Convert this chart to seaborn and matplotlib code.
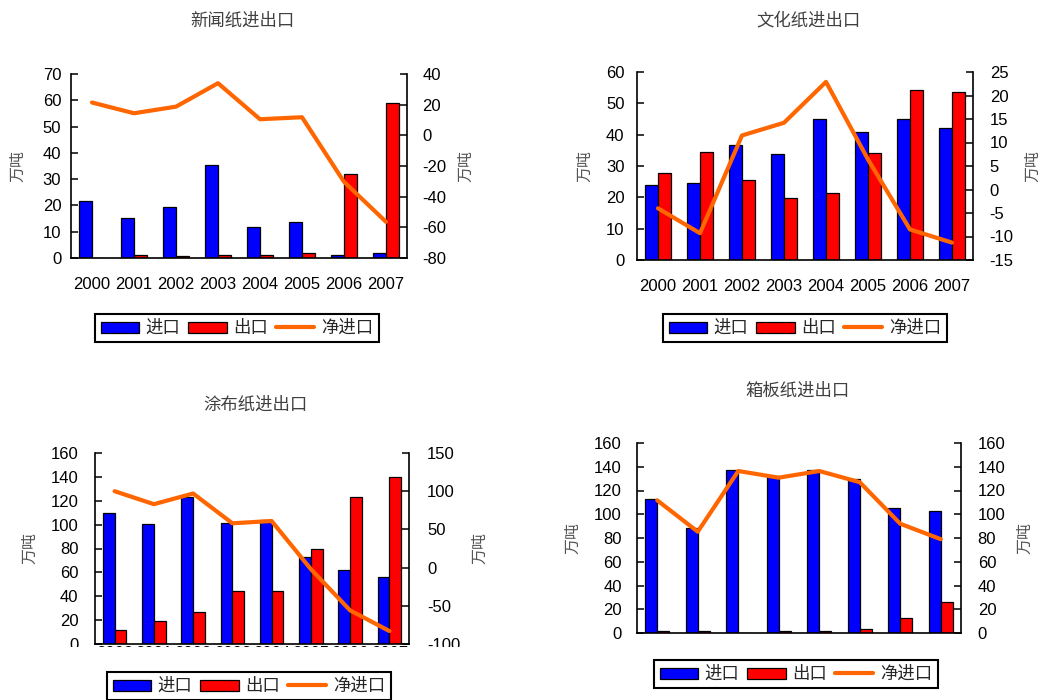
import numpy as np
import pandas as pd
import matplotlib
matplotlib.use("Agg")
import matplotlib.pyplot as plt
import seaborn as sns
from matplotlib.patches import Patch
from matplotlib.lines import Line2D
from matplotlib.transforms import Bbox, TransformedBbox, IdentityTransform

# ---------------- data ----------------
years = ["2000", "2001", "2002", "2003", "2004", "2005", "2006", "2007"]
series_names = ["进口", "出口", "净进口"]
titles = ["新闻纸进出口", "文化纸进出口", "涂布纸进出口", "箱板纸进出口"]
unit_label = "万吨"

news_import = [21.5, 15.1, 19.4, 35.4, 11.7, 13.8, 1.1, 1.9]
news_export = [0.0, 1.1, 0.6, 1.1, 1.1, 1.9, 32.0, 59.0]
news_net = [21.4, 14.4, 18.7, 34.0, 10.5, 11.8, -30.3, -56.4]

culture_import = [23.9, 24.5, 36.7, 33.8, 44.9, 40.7, 44.9, 42.0]
culture_export = [27.9, 34.4, 25.6, 19.7, 21.5, 34.3, 54.1, 53.5]
culture_net = [-4.0, -9.3, 11.5, 14.2, 22.9, 6.4, -8.5, -11.3]

coated_import = [110.0, 100.8, 122.8, 101.4, 104.0, 73.0, 62.3, 56.0]
coated_export = [11.5, 19.0, 26.8, 44.0, 44.0, 79.4, 122.8, 139.7]
coated_net = [100.0, 83.0, 97.0, 58.0, 61.0, -2.0, -56.0, -83.0]

board_import = [112.6, 88.1, 137.0, 132.0, 137.0, 129.4, 105.0, 103.0]
board_export = [1.7, 1.5, 0.0, 1.5, 1.5, 3.4, 12.4, 26.4]
board_net = [111.7, 85.3, 136.4, 130.8, 136.4, 127.0, 92.0, 79.0]

# ---------------- style ----------------
sns.set_style("white")
plt.rcParams["font.family"] = ["Liberation Sans", "Noto Sans CJK SC", "DejaVu Sans"]
plt.rcParams["axes.unicode_minus"] = False

BLUE = "#0000FF"
RED = "#FF0000"
ORANGE = "#FF6600"
W, H = 1050, 700
TICK_FS = 12

fig = plt.figure(figsize=(W / 100, H / 100), dpi=100)
fig.patch.set_facecolor("white")


def draw_panel(rect, title, title_xy, imp, exp, net, ylim_l, yticks_l, ylim_r, yticks_r,
               legend_xy, ylab_x, pads=(7, 11), show_xlabels=True, xpad=14, clip_y=None):
    l, r, t, b = rect
    ax = fig.add_axes([l / W, 1 - b / H, (r - l) / W, (b - t) / H])
    df = pd.DataFrame({
        "year": years * 2,
        "kind": [series_names[0]] * len(years) + [series_names[1]] * len(years),
        "value": list(imp) + list(exp),
    })
    sns.barplot(data=df, x="year", y="value", hue="kind", order=years,
                hue_order=series_names[:2], palette=[BLUE, RED], saturation=1,
                width=0.6, edgecolor="black", linewidth=0.9, legend=False, ax=ax)
    ax2 = ax.twinx()
    sns.lineplot(x=np.arange(len(years)), y=net, ax=ax2, color=ORANGE,
                 linewidth=3.0, sort=False)
    ax.set_xlim(-0.5, len(years) - 0.5)
    ax.set_ylim(*ylim_l)
    ax.set_yticks(yticks_l)
    ax2.set_ylim(*ylim_r)
    ax2.set_yticks(yticks_r)
    ax.set_xticks(range(len(years)), labels=years if show_xlabels else [""] * len(years))
    ax.set_xticks(np.arange(0.5, len(years) - 0.5, 1.0), minor=True)
    ax.tick_params(axis="x", which="major", length=0, pad=xpad, labelsize=TICK_FS, colors="black")
    ax.tick_params(axis="x", which="minor", direction="in", length=5, width=1.1, color="black")
    ax.tick_params(axis="y", direction="in", length=5, width=1.1, pad=pads[0],
                   labelsize=TICK_FS, colors="black")
    ax2.tick_params(axis="y", direction="in", length=5, width=1.1, pad=pads[1],
                    labelsize=TICK_FS, colors="black")
    ax.set_xlabel("")
    for a in (ax, ax2):
        for s in a.spines.values():
            s.set_color("black")
            s.set_linewidth(1.2)
        a.spines["top"].set_visible(False)
    ax.spines["right"].set_visible(False)
    ax2.spines["left"].set_visible(False)
    ax2.spines["bottom"].set_visible(False)
    ax.set_facecolor("none")

    ax.set_ylabel(unit_label, fontsize=11.5, color="#555555")
    ax2.set_ylabel(unit_label, fontsize=11.5, color="#555555")
    lx, rx = ylab_x
    ax.yaxis.set_label_coords((lx - l) / (r - l), 0.5)
    ax2.yaxis.set_label_coords((rx - l) / (r - l), 0.5)
    ax.yaxis.label.set_va("center")
    ax2.yaxis.label.set_va("center")

    fig.text(title_xy[0] / W, 1 - title_xy[1] / H, title, ha="center", va="center",
             fontsize=12.5, color="#404040")

    handles = [Patch(facecolor=BLUE, edgecolor="black", linewidth=0.9),
               Patch(facecolor=RED, edgecolor="black", linewidth=0.9),
               Line2D([0], [0], color=ORANGE, linewidth=3)]
    leg = ax2.legend(handles, series_names, loc="center",
                     bbox_to_anchor=(legend_xy[0] / W, 1 - legend_xy[1] / H),
                     bbox_transform=fig.transFigure, ncol=3, frameon=True,
                     fancybox=False, framealpha=1, edgecolor="black", fontsize=12.5,
                     handlelength=2.2, handleheight=0.6, handletextpad=0.4,
                     columnspacing=0.45, borderpad=0.35)
    leg.get_frame().set_linewidth(1.5)

    if clip_y is not None:
        cb = TransformedBbox(Bbox.from_extents(0, H - clip_y, W / 2, H), IdentityTransform())
        for lab in ax.get_xticklabels() + ax.get_yticklabels() + ax2.get_yticklabels():
            lab.set_clip_box(cb)
            lab.set_clip_on(True)
    return ax, ax2


draw_panel((71, 407, 74, 258), titles[0], (242, 21), news_import, news_export, news_net,
           (0, 70), range(0, 71, 10), (-80, 40), range(-80, 41, 20),
           (237, 328), (18, 466), pads=(7, 11))

draw_panel((637, 973, 72, 260), titles[1], (808, 20), culture_import, culture_export, culture_net,
           (0, 60), range(0, 61, 10), (-15, 25), range(-15, 26, 5),
           (805, 328), (585, 1033), pads=(9, 12))

draw_panel((95, 409, 453, 644), titles[2], (255, 405), coated_import, coated_export, coated_net,
           (0, 160), range(0, 161, 20), (-100, 150), range(-100, 151, 50),
           (249, 686), (30, 480), pads=(12, 13), xpad=1.5, clip_y=647)

draw_panel((637, 961, 443, 633), titles[3], (798, 391), board_import, board_export, board_net,
           (0, 160), range(0, 161, 20), (0, 160), range(0, 161, 20),
           (796, 674), (573, 1025), pads=(11, 12), show_xlabels=False)

fig.savefig("out.png", dpi=100)
